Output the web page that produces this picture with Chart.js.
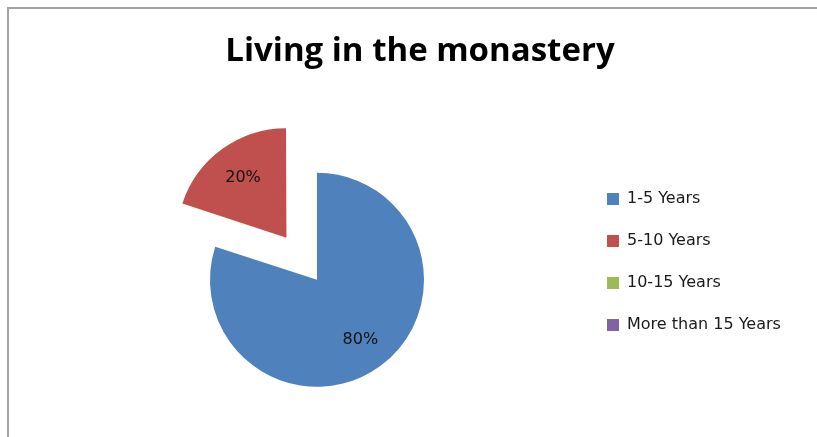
<!DOCTYPE html>
<html>
<head>
<meta charset="utf-8">
<title>Living in the monastery</title>
<script src="https://cdn.jsdelivr.net/npm/chart.js@4"></script>
<style>
    body { margin: 0; background: #fff; }
    #wrap { position: relative; width: 817px; height: 437px; overflow: hidden; }
    #frame {
        position: absolute; left: 7px; top: 7px; right: -10px; bottom: -10px;
        border-left: 2px solid #a3a3a3; border-top: 2px solid #a3a3a3;
    }
    #pieChart { position: absolute; left: 0; top: 0; }
</style>
</head>
<body>
<div id="wrap">
    <div id="frame"></div>
    <canvas id="pieChart" width="817" height="437"></canvas>
</div>
<script>
const periods = ["1-5 Years", "5-10 Years", "10-15 Years", "More than 15 Years"];
const shares = [80, 20, 0, 0];

const sliceColors = ['#4F81BD', '#C0504D', '#9BBB59', '#8064A2'];
// pull the second slice out of the pie
const explode = [0, 208, 0, 0];

// percentage text inside each slice
const sliceLabels = {
    id: 'sliceLabels',
    afterDatasetsDraw(chart) {
        const ctx = chart.ctx;
        const meta = chart.getDatasetMeta(0);
        ctx.save();
        ctx.font = '16px "DejaVu Sans"';
        ctx.fillStyle = '#111';
        ctx.textAlign = 'center';
        ctx.textBaseline = 'middle';
        meta.data.forEach(function(arc, i) {
            if (!shares[i]) return;
            const p = arc.getProps(['x', 'y', 'startAngle', 'endAngle', 'outerRadius'], true);
            const mid = (p.startAngle + p.endAngle) / 2;
            const r = (arc.options.offset || 0) / 4 + p.outerRadius * 0.69;
            ctx.fillText(shares[i] + '%', p.x + Math.cos(mid) * r, p.y + Math.sin(mid) * r);
        });
        ctx.restore();
    }
};

const ctx = document.getElementById("pieChart").getContext("2d");
new Chart(ctx, {
    type: 'pie',
    data: {
        labels: periods,
        datasets: [{
            data: shares,
            backgroundColor: sliceColors,
            borderWidth: 0,
            offset: explode,
            radius: 107
        }]
    },
    options: {
        responsive: false,
        devicePixelRatio: 1,
        animation: false,
        events: [],
        layout: {
            padding: { left: 53, right: 30, top: 0, bottom: 0 }
        },
        plugins: {
            title: {
                display: true,
                text: 'Living in the monastery',
                color: '#000',
                font: { family: 'Open Sans', size: 33, weight: 'bold' },
                padding: { top: 32, bottom: 51 }
            },
            legend: {
                position: 'right',
                align: 'start',
                maxWidth: 206,
                title: {
                    display: true,
                    text: '',
                    font: { size: 10 },
                    padding: { top: 153, bottom: 0 }
                },
                labels: {
                    boxWidth: 12,
                    boxHeight: 12,
                    padding: 26,
                    color: '#1a1a1a',
                    font: { family: 'DejaVu Sans', size: 16 }
                }
            },
            tooltip: { enabled: false }
        }
    },
    plugins: [sliceLabels]
});
</script>
</body>
</html>
